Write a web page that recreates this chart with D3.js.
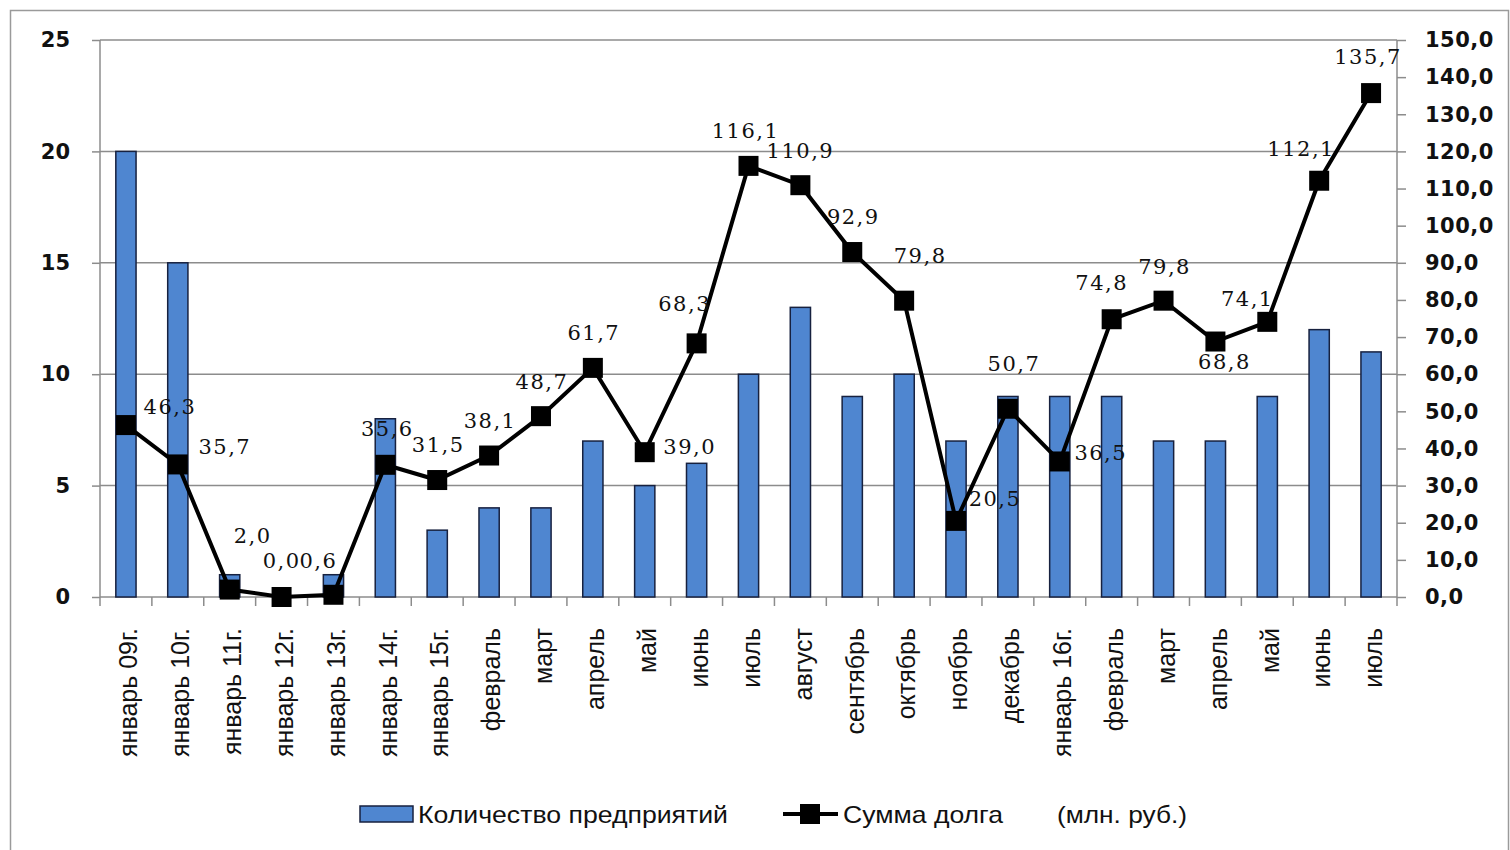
<!DOCTYPE html>
<html>
<head>
<meta charset="utf-8">
<script src="https://cdn.jsdelivr.net/npm/d3@7"></script>
<style>
  body { margin: 0; background: #fff; }
</style>
</head>
<body>
<svg width="1510" height="850"></svg>
<script>
// categories (months)
const categories = ["январь 09г.", "январь 10г.", "январь 11г.", "январь 12г.", "январь 13г.",
  "январь 14г.", "январь 15г.", "февраль", "март", "апрель", "май", "июнь", "июль", "август",
  "сентябрь", "октябрь", "ноябрь", "декабрь", "январь 16г.", "февраль", "март", "апрель",
  "май", "июнь", "июль"];

// bars: number of enterprises (left axis)
const enterprises = [20, 15, 1, 0, 1, 8, 3, 4, 4, 7, 5, 6, 10, 13, 9, 10, 7, 9, 9, 9, 7, 7, 9, 12, 11];

// line: debt sum, mln rub (right axis)
const debt = [46.3, 35.7, 2.0, 0.0, 0.6, 35.6, 31.5, 38.1, 48.7, 61.7, 39.0, 68.3, 116.1, 110.9,
  92.9, 79.8, 20.5, 50.7, 36.5, 74.8, 79.8, 68.8, 74.1, 112.1, 135.7];

const leftTicks = [0, 5, 10, 15, 20, 25];
const rightTicks = [0, 10, 20, 30, 40, 50, 60, 70, 80, 90, 100, 110, 120, 130, 140, 150];

// label offsets (dx, dy) relative to each point, text centre
const labelOffsets = [[44, -18], [47, -18], [23, -54], [0, -36], [-15, -34], [2, -36], [1, -35],
  [1, -35], [1, -35], [1, -35], [45, -6], [-12, -40], [-3, -35], [0, -35], [1, -35], [16, -45],
  [39, -22], [6, -45], [41, -9], [-10, -37], [1, -34], [9, 20], [-20, -23], [-18, -32], [-3, -36]];

const svg = d3.select("svg");
const margin = { top: 40, left: 100, right: 113, bottom: 253 };
const width = 1510, height = 850;

// frame
svg.append("rect")
  .attr("x", 10.5).attr("y", 10.5)
  .attr("width", 1498).attr("height", 850)
  .attr("fill", "none").attr("stroke", "#9a9a9a").attr("stroke-width", 1.5);

const x = d3.scaleBand()
  .domain(d3.range(categories.length))
  .range([margin.left, width - margin.right])
  .paddingInner(0.61).paddingOuter(0.305);

const yL = d3.scaleLinear().domain([0, 25]).range([height - margin.bottom, margin.top]);
const yR = d3.scaleLinear().domain([0, 150]).range([height - margin.bottom, margin.top]);

// gridlines
svg.append("g")
  .selectAll("line")
  .data(leftTicks.slice(1))
  .join("line")
  .attr("x1", margin.left).attr("x2", width - margin.right)
  .attr("y1", d => yL(d)).attr("y2", d => yL(d))
  .attr("stroke", "#8c8c8c").attr("stroke-width", 1.5);

// left axis
const gL = svg.append("g")
  .attr("transform", `translate(${margin.left},0)`)
  .call(d3.axisLeft(yL).tickValues(leftTicks).tickSize(8).tickPadding(22));
gL.selectAll("path, line").attr("stroke", "#8c8c8c").attr("stroke-width", 1.5);
gL.select(".domain").attr("d", `M0,${yL(25)}V${yL(0)}`);
gL.selectAll("text")
  .style("font-family", "DejaVu Sans").style("font-weight", "bold")
  .style("font-size", "21px").attr("fill", "#111");

// right axis
const gR = svg.append("g")
  .attr("transform", `translate(${width - margin.right},0)`)
  .call(d3.axisRight(yR).tickValues(rightTicks).tickSize(9).tickPadding(19)
    .tickFormat(d => d3.format(".1f")(d).replace(".", ",")));
gR.selectAll("path, line").attr("stroke", "#8c8c8c").attr("stroke-width", 1.5);
gR.select(".domain").attr("d", `M0,${yR(150)}V${yR(0)}`);
gR.selectAll("text")
  .style("font-family", "DejaVu Sans").style("font-weight", "bold")
  .style("font-size", "21px").style("letter-spacing", "0.5px").attr("fill", "#111");

// bottom axis: baseline + ticks between categories
const step = x.step();
const gB = svg.append("g").attr("transform", `translate(0,${yL(0)})`);
gB.append("line")
  .attr("x1", margin.left).attr("x2", width - margin.right)
  .attr("stroke", "#8c8c8c").attr("stroke-width", 1.5);
gB.selectAll("line.tick")
  .data(d3.range(categories.length + 1))
  .join("line")
  .attr("class", "tick")
  .attr("x1", i => margin.left + i * step).attr("x2", i => margin.left + i * step)
  .attr("y1", 0).attr("y2", 9)
  .attr("stroke", "#8c8c8c").attr("stroke-width", 1.5);

gB.selectAll("text")
  .data(categories)
  .join("text")
  .attr("transform", (d, i) => `translate(${x(i) + x.bandwidth() / 2},31) rotate(-90)`)
  .attr("text-anchor", "end")
  .attr("dy", "0.45em")
  .style("font-family", "Liberation Sans")
  .style("font-size", "25px")
  .attr("fill", "#111")
  .text(d => d);

// bars
svg.append("g")
  .selectAll("rect")
  .data(enterprises)
  .join("rect")
  .attr("x", (d, i) => x(i))
  .attr("width", x.bandwidth())
  .attr("y", d => yL(d))
  .attr("height", d => yL(0) - yL(d))
  .attr("fill", "#4f86d0")
  .attr("stroke", "#17213f")
  .attr("stroke-width", 1.5);

// line
const cx = i => x(i) + x.bandwidth() / 2;
svg.append("path")
  .datum(debt)
  .attr("d", d3.line().x((d, i) => cx(i)).y(d => yR(d)))
  .attr("fill", "none")
  .attr("stroke", "#000")
  .attr("stroke-width", 4);

svg.append("g")
  .selectAll("rect")
  .data(debt)
  .join("rect")
  .attr("x", (d, i) => cx(i) - 10)
  .attr("y", d => yR(d) - 10)
  .attr("width", 20).attr("height", 20)
  .attr("fill", "#000");

// data labels
svg.append("g")
  .selectAll("text")
  .data(debt)
  .join("text")
  .attr("x", (d, i) => cx(i) + labelOffsets[i][0])
  .attr("y", (d, i) => yR(d) + labelOffsets[i][1])
  .attr("text-anchor", "middle")
  .attr("dy", "0.35em")
  .style("font-family", "DejaVu Serif")
  .style("font-size", "21px")
  .style("letter-spacing", "1.5px")
  .attr("fill", "#111")
  .text(d => d3.format(".1f")(d).replace(".", ","));

// legend
const lg = svg.append("g").style("font-family", "Liberation Sans Narrow, Liberation Sans")
  .style("font-size", "24px").attr("fill", "#111");
lg.append("rect")
  .attr("x", 360).attr("y", 806).attr("width", 53).attr("height", 16)
  .attr("fill", "#4f86d0").attr("stroke", "#17213f").attr("stroke-width", 1.5);
lg.append("text").attr("x", 418).attr("y", 823)
  .attr("textLength", 310).attr("lengthAdjust", "spacingAndGlyphs")
  .text("Количество предприятий");
lg.append("line").attr("x1", 783).attr("x2", 838).attr("y1", 814).attr("y2", 814)
  .attr("stroke", "#000").attr("stroke-width", 4);
lg.append("rect").attr("x", 800).attr("y", 804).attr("width", 20).attr("height", 20).attr("fill", "#000");
lg.append("text").attr("x", 843).attr("y", 823)
  .attr("textLength", 160).attr("lengthAdjust", "spacingAndGlyphs")
  .text("Сумма долга");
lg.append("text").attr("x", 1057).attr("y", 823)
  .attr("textLength", 130).attr("lengthAdjust", "spacingAndGlyphs")
  .text("(млн. руб.)");
</script>
</body>
</html>
